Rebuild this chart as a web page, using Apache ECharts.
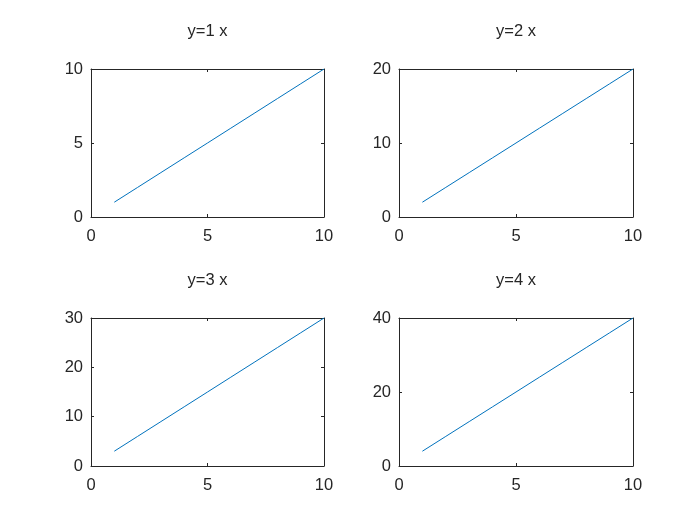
<!DOCTYPE html>
<html>
<head>
<meta charset="utf-8">
<script src="https://cdn.jsdelivr.net/npm/echarts@6/dist/echarts.min.js"></script>
<style>
  html, body { margin: 0; padding: 0; background: #fff; }
  #chart { width: 700px; height: 525px; }
</style>
</head>
<body>
<div id="chart"></div>
<script>
// data
var xValues = [1, 2, 3, 4, 5, 6, 7, 8, 9, 10];
var y1 = [1, 2, 3, 4, 5, 6, 7, 8, 9, 10];
var y2 = [2, 4, 6, 8, 10, 12, 14, 16, 18, 20];
var y3 = [3, 6, 9, 12, 15, 18, 21, 24, 27, 30];
var y4 = [4, 8, 12, 16, 20, 24, 28, 32, 36, 40];
var titles = ['y=1 x', 'y=2 x', 'y=3 x', 'y=4 x'];
var yMax = [10, 20, 30, 40];
var yStep = [5, 10, 10, 20];
var xMax = 10, xStep = 5;

var ink = '#262626';
var font = 'Liberation Sans, Arial, sans-serif';

// subplot boxes (left, top, width, height)
var boxes = [
  [91, 69, 233, 148],
  [399, 69, 234, 148],
  [91, 318, 233, 148],
  [399, 318, 234, 148]
];
var ys = [y1, y2, y3, y4];

var grids = [], xAxes = [], yAxes = [], series = [], title = [];

function axisBase(show) {
  return {
    axisLine: { show: true, onZero: false, lineStyle: { color: ink, width: 1 } },
    axisTick: { show: true, inside: true, length: 3, lineStyle: { color: ink } },
    splitLine: { show: false },
    axisLabel: { show: show, color: ink, fontSize: 16.5, fontFamily: font }
  };
}

boxes.forEach(function (b, i) {
  grids.push({ left: b[0], top: b[1], width: b[2], height: b[3], containLabel: false });
  title.push({
    text: titles[i],
    left: b[0] + b[2] / 2,
    top: b[1] - 46,
    padding: 0,
    textAlign: 'center',
    textStyle: { color: ink, fontSize: 16.5, fontWeight: 'normal', fontFamily: font }
  });

  var xb = Object.assign(axisBase(true), { type: 'value', gridIndex: i, position: 'bottom', min: 0, max: xMax, interval: xStep });
  xb.axisLabel.margin = 11;
  var xt = Object.assign(axisBase(false), { type: 'value', gridIndex: i, position: 'top', min: 0, max: xMax, interval: xStep });
  var yl = Object.assign(axisBase(true), { type: 'value', gridIndex: i, position: 'left', min: 0, max: yMax[i], interval: yStep[i] });
  yl.axisLabel.margin = 8;
  var yr = Object.assign(axisBase(false), { type: 'value', gridIndex: i, position: 'right', min: 0, max: yMax[i], interval: yStep[i] });
  xAxes.push(xb, xt);
  yAxes.push(yl, yr);

  series.push({
    type: 'line',
    xAxisIndex: i * 2,
    yAxisIndex: i * 2,
    data: xValues.map(function (x, k) { return [x, ys[i][k]]; }),
    showSymbol: false,
    symbol: 'none',
    lineStyle: { color: '#0072BD', width: 1 },
    animation: false
  });
});

var chart = echarts.init(document.getElementById('chart'));
chart.setOption({
  backgroundColor: '#ffffff',
  animation: false,
  title: title,
  grid: grids,
  xAxis: xAxes,
  yAxis: yAxes,
  series: series
});
</script>
</body>
</html>
